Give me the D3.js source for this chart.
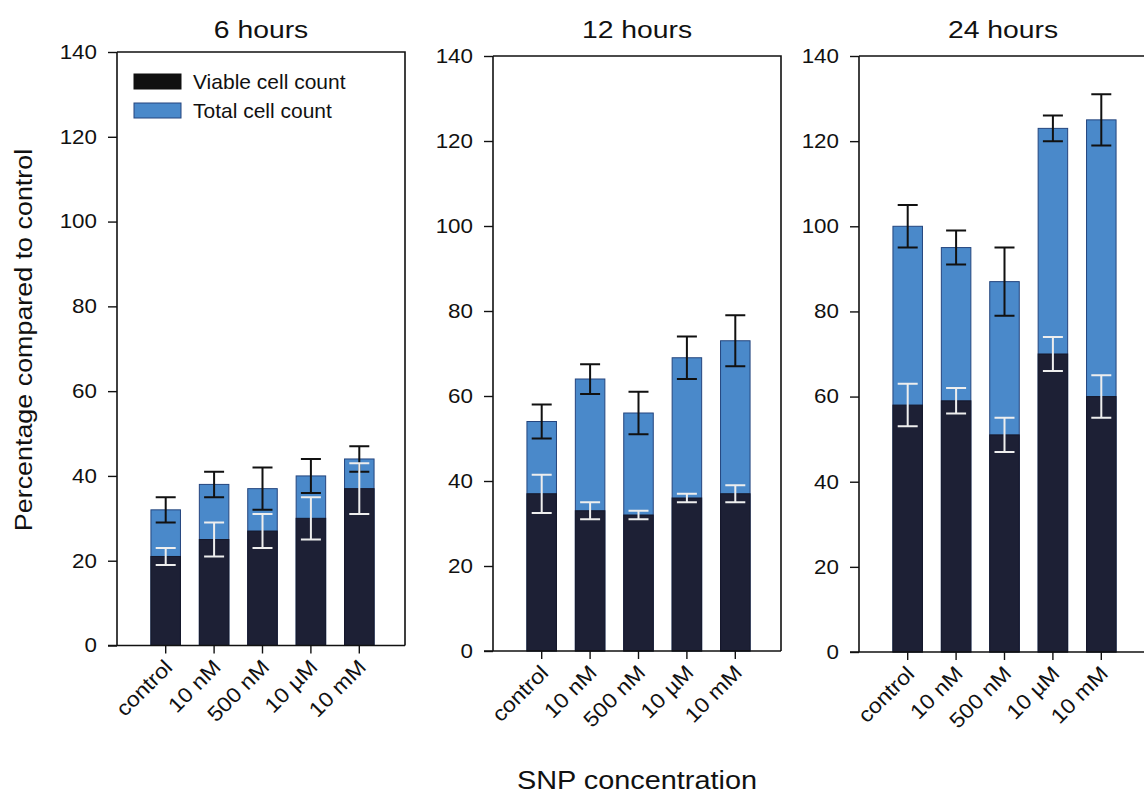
<!DOCTYPE html>
<html>
<head>
<meta charset="utf-8">
<script src="https://cdnjs.cloudflare.com/ajax/libs/d3/7.8.5/d3.min.js"></script>
<style>
  html, body { margin: 0; padding: 0; background: #fff; }
  svg { display: block; }
  text { font-family: "Liberation Sans", Arial, Helvetica, sans-serif; fill: #111; }
</style>
</head>
<body>
<svg id="chart" width="1144" height="794"></svg>
<script>
// SNP concentrations on the x axis
const categories = ["control", "10 nM", "500 nM", "10 \u00b5M", "10 mM"];
const panelTitles = ["6 hours", "12 hours", "24 hours"];
const yTicks = [0, 20, 40, 60, 80, 100, 120, 140];

// 6 hours
const total6 = [32, 38, 37, 40, 44];
const totalErr6 = [3, 3, 5, 4, 3];
const viable6 = [21, 25, 27, 30, 37];
const viableErr6 = [2, 4, 4, 5, 6];

// 12 hours
const total12 = [54, 64, 56, 69, 73];
const totalErr12 = [4, 3.5, 5, 5, 6];
const viable12 = [37, 33, 32, 36, 37];
const viableErr12 = [4.5, 2, 1, 1, 2];

// 24 hours
const total24 = [100, 95, 87, 123, 125];
const totalErr24 = [5, 4, 8, 3, 6];
const viable24 = [58, 59, 51, 70, 60];
const viableErr24 = [5, 3, 4, 4, 5];

const legendLabels = ["Viable cell count", "Total cell count"];

const BLUE = "#4a89ca";
const BLUE_EDGE = "#24457e";
const NAVY = "#1d2035";
const BLACK = "#111111";

const panels = [
  { title: panelTitles[0], total: total6, totalErr: totalErr6, viable: viable6, viableErr: viableErr6,
    axisX: 117, top: 52, zero: 645.5 },
  { title: panelTitles[1], total: total12, totalErr: totalErr12, viable: viable12, viableErr: viableErr12,
    axisX: 493, top: 56, zero: 651 },
  { title: panelTitles[2], total: total24, totalErr: totalErr24, viable: viable24, viableErr: viableErr24,
    axisX: 859, top: 56, zero: 652 }
];

const svg = d3.select("#chart");

// text with a slight horizontal stretch in its own frame
function label(parent, str, x, y, opts) {
  const o = Object.assign({ size: 20, sx: 1.1, rot: 0, anchor: "start" }, opts || {});
  return parent.append("text")
    .attr("transform", `translate(${x},${y}) rotate(${o.rot}) scale(${o.sx},1)`)
    .attr("text-anchor", o.anchor)
    .style("font-size", o.size + "px")
    .text(str);
}

const frameW = 288;
const bandInset = 17;
const bandW = 257;

panels.forEach((p) => {
  const g = svg.append("g");

  const y = d3.scaleLinear().domain([0, 140]).range([p.zero, p.top]);
  const x = d3.scaleBand().domain(categories)
    .range([p.axisX + bandInset, p.axisX + bandInset + bandW])
    .paddingInner(0.39).paddingOuter(0.35);

  // frame: top and right edges
  g.append("path")
    .attr("d", `M${p.axisX},${p.top}H${p.axisX + frameW}V${p.zero}`)
    .attr("fill", "none").attr("stroke", "#111").attr("stroke-width", 1.6);

  // total cell count bars
  g.selectAll("rect.total").data(categories).join("rect")
    .attr("class", "total")
    .attr("x", d => x(d))
    .attr("width", x.bandwidth())
    .attr("y", (d, i) => y(p.total[i]))
    .attr("height", (d, i) => y(0) - y(p.total[i]))
    .attr("fill", BLUE).attr("stroke", BLUE_EDGE).attr("stroke-width", 1);

  // viable cell count bars
  g.selectAll("rect.viable").data(categories).join("rect")
    .attr("class", "viable")
    .attr("x", d => x(d))
    .attr("width", x.bandwidth())
    .attr("y", (d, i) => y(p.viable[i]))
    .attr("height", (d, i) => y(0) - y(p.viable[i]))
    .attr("fill", NAVY).attr("stroke", "#15172a").attr("stroke-width", 1);

  // error bars
  const cap = 10;
  function errorBars(means, errs, color, cls) {
    const eg = g.selectAll("g." + cls).data(categories).join("g").attr("class", cls);
    eg.append("path")
      .attr("d", (d, i) => {
        const cx = x(d) + x.bandwidth() / 2;
        const hi = y(means[i] + errs[i]), lo = y(means[i] - errs[i]);
        return `M${cx},${hi}V${lo}M${cx - cap},${hi}H${cx + cap}M${cx - cap},${lo}H${cx + cap}`;
      })
      .attr("fill", "none").attr("stroke", color).attr("stroke-width", 2);
  }
  errorBars(p.total, p.totalErr, "#111", "err-total");
  errorBars(p.viable, p.viableErr, "#eeeeee", "err-viable");

  // y axis
  const yAxis = d3.axisLeft(y).tickValues(yTicks).tickSize(9).tickPadding(11).tickFormat(d3.format("d"));
  const ya = g.append("g").attr("transform", `translate(${p.axisX},0)`).call(yAxis);
  ya.select(".domain").attr("d", `M0,${p.top}V${p.zero}`).attr("stroke", "#111").attr("stroke-width", 1.6);
  ya.selectAll(".tick line").attr("stroke", "#111").attr("stroke-width", 1.4);
  ya.selectAll(".tick text")
    .style("font-size", "20px")
    .style("font-family", "'Liberation Sans', Arial, sans-serif")
    .attr("fill", "#111")
    .each(function () {
      const t = d3.select(this);
      const tx = +t.attr("x");
      t.attr("x", null).attr("transform", `translate(${tx},0) scale(1.12,1)`);
    });

  // x axis
  const xAxis = d3.axisBottom(x).tickSize(8).tickFormat("");
  const xa = g.append("g").attr("transform", `translate(0,${p.zero})`).call(xAxis);
  xa.select(".domain").attr("d", `M${p.axisX - 9},0H${p.axisX + frameW}`).attr("stroke", "#111").attr("stroke-width", 1.6);
  xa.selectAll(".tick line").attr("stroke", "#111").attr("stroke-width", 1.4);

  categories.forEach(c => {
    const cx = x(c) + x.bandwidth() / 2;
    label(g, c, cx + 8, p.zero + 23, { size: 21, sx: 1.1, rot: -45, anchor: "end" });
  });

  // panel title
  label(g, p.title, p.axisX + frameW / 2, 38, { size: 24, sx: 1.18, anchor: "middle" });
});

// legend (first panel)
const leg = svg.append("g");
const legendColors = [BLACK, BLUE];
const legendStroke = [BLACK, BLUE_EDGE];
const legendY = [74, 103];
legendLabels.forEach((s, i) => {
  leg.append("rect")
    .attr("x", 134).attr("y", legendY[i]).attr("width", 47).attr("height", 15)
    .attr("fill", legendColors[i]).attr("stroke", legendStroke[i]).attr("stroke-width", 1);
  label(leg, s, 193, legendY[i] + 14.5, { size: 20, sx: 1.05 });
});

// axis titles
label(svg, "Percentage compared to control", 32, 340, { size: 24, sx: 1.12, rot: -90, anchor: "middle" });
label(svg, "SNP concentration", 637, 789, { size: 26, sx: 1.11, anchor: "middle" });
</script>
</body>
</html>
